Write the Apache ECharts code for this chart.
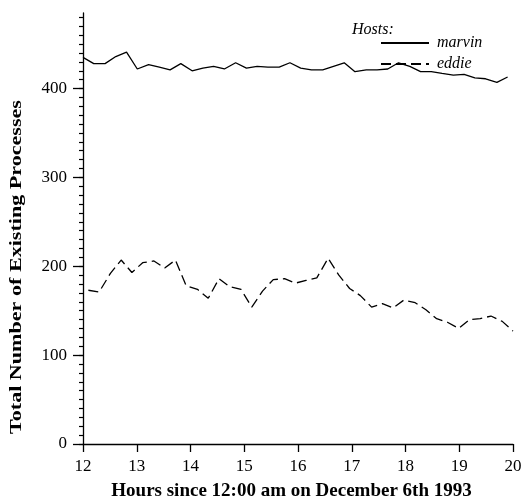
<!DOCTYPE html>
<html>
<head>
<meta charset="utf-8">
<script src="https://cdn.jsdelivr.net/npm/echarts@6/dist/echarts.min.js"></script>
<style>
  html, body { margin: 0; padding: 0; background: #fff; }
  #chart { width: 525px; height: 502px; }
</style>
</head>
<body>
<div id="chart"></div>
<script>
// hours of each sample (x), one list per host
var marvinHours = [12.00, 12.20, 12.41, 12.61, 12.81, 13.01, 13.22, 13.42, 13.62, 13.82,
  14.03, 14.23, 14.43, 14.63, 14.84, 15.04, 15.24, 15.44, 15.65, 15.85,
  16.05, 16.25, 16.46, 16.66, 16.86, 17.06, 17.27, 17.47, 17.67, 17.87,
  18.08, 18.28, 18.48, 18.68, 18.89, 19.09, 19.29, 19.49, 19.70, 19.90];
var marvinProcs = [435, 428, 428, 436, 441, 422, 427, 424, 421, 428,
  420, 423, 425, 422, 429, 423, 425, 424, 424, 429,
  423, 421, 421, 425, 429, 419, 421, 421, 422, 429,
  425, 419, 419, 417, 415, 416, 412, 411, 407, 413];

var eddieHours = [12.10, 12.30, 12.51, 12.71, 12.91, 13.11, 13.32, 13.52, 13.72, 13.92,
  14.13, 14.33, 14.53, 14.73, 14.94, 15.14, 15.34, 15.54, 15.75, 15.95,
  16.15, 16.35, 16.56, 16.76, 16.96, 17.16, 17.37, 17.57, 17.77, 17.97,
  18.18, 18.38, 18.58, 18.78, 18.99, 19.19, 19.39, 19.59, 19.80, 20.00];
var eddieProcs = [173, 171, 192, 207, 193, 204, 206, 198, 207, 178,
  174, 164, 186, 177, 174, 154, 172, 185, 186, 181,
  184, 187, 209, 190, 175, 167, 154, 158, 153, 162,
  159, 151, 141, 137, 130, 140, 141, 144, 138, 127];

var yLabels = [0, 100, 200, 300, 400];
var xLabels = [12, 13, 14, 15, 16, 17, 18, 19, 20];

var serif = 'Liberation Serif';

function pairs(xs, ys) {
  var out = [];
  xs.forEach(function (x, i) { out.push([x, ys[i]]); });
  return out;
}

var minorTicks = [];
for (var v = 0; v <= 480; v += 10) minorTicks.push(v);

var chart = echarts.init(document.getElementById('chart'));
chart.setOption({
  animation: false,
  backgroundColor: '#fff',
  title: {
    text: 'Hosts:',
    left: 352,
    top: 22,
    padding: 0,
    textStyle: { fontFamily: serif, fontStyle: 'italic', fontWeight: 'normal', fontSize: 16, color: '#000' }
  },
  legend: {
    orient: 'vertical',
    left: 380,
    top: 35,
    padding: 0,
    itemWidth: 48,
    itemHeight: 14,
    itemGap: 5,
    itemStyle: { color: 'rgba(0,0,0,0)', borderWidth: 0, opacity: 0 },
    textStyle: { fontFamily: serif, fontStyle: 'italic', fontSize: 16, color: '#000', padding: [0, 0, 0, 3] },
    data: ['marvin', 'eddie']
  },
  grid: { left: 83, right: 12, top: 13, bottom: 58, containLabel: false, outerBoundsMode: 'none' },
  xAxis: {
    type: 'value',
    min: 12,
    max: 20,
    interval: 1,
    name: 'Hours since 12:00 am on December 6th 1993',
    nameLocation: 'middle',
    nameGap: 38,
    nameTextStyle: { fontFamily: serif, fontWeight: 'bold', fontSize: 19, color: '#000', padding: [0, 13, 0, 0] },
    axisLine: { lineStyle: { color: '#000', width: 1.3 } },
    axisTick: { length: 8, lineStyle: { color: '#000', width: 1.3 } },
    axisLabel: { margin: 14, fontFamily: serif, fontSize: 17, color: '#000', customValues: xLabels },
    splitLine: { show: false }
  },
  yAxis: [{
    type: 'value',
    min: 0,
    max: 485,
    interval: 10,
    axisLine: { show: true, lineStyle: { color: '#000', width: 1.3 } },
    axisTick: { length: 4, customValues: minorTicks, lineStyle: { color: '#000', width: 1.2 } },
    axisLabel: { margin: 16, fontFamily: serif, fontSize: 17, color: '#000', customValues: yLabels },
    splitLine: { show: false }
  }, {
    type: 'value',
    position: 'left',
    min: 0,
    max: 485,
    interval: 100,
    axisLine: { show: false },
    axisTick: { length: 10, customValues: yLabels, lineStyle: { color: '#000', width: 1.3 } },
    axisLabel: { show: false },
    splitLine: { show: false }
  }],
  graphic: [{
    type: 'text',
    x: 17,
    y: 267,
    rotation: Math.PI / 2,
    scaleX: 1.3,
    style: {
      text: 'Total Number of Existing Processes',
      fontFamily: serif,
      fontWeight: 'bold',
      fontSize: 17,
      fill: '#000',
      align: 'center',
      verticalAlign: 'middle'
    }
  }],
  series: [{
    name: 'marvin',
    type: 'line',
    yAxisIndex: 0,
    symbol: 'none',
    data: pairs(marvinHours, marvinProcs),
    lineStyle: { color: '#000', width: 1.3, type: 'solid' },
    itemStyle: { color: '#000' }
  }, {
    name: 'eddie',
    type: 'line',
    yAxisIndex: 0,
    symbol: 'none',
    data: pairs(eddieHours, eddieProcs),
    lineStyle: { color: '#000', width: 1.3, type: [10, 5] },
    itemStyle: { color: '#000' }
  }]
});
</script>
</body>
</html>
